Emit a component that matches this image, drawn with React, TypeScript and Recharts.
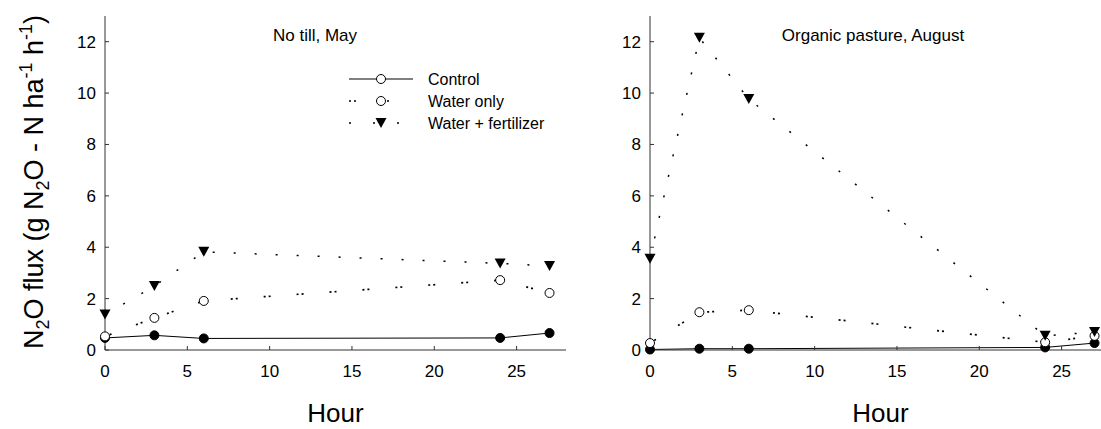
import { Line, LineChart, XAxis, YAxis } from "recharts"

const hours = [0, 3, 6, 24, 27]

const noTillControl = [0.47, 0.57, 0.45, 0.47, 0.66]
const noTillWater = [0.53, 1.25, 1.91, 2.72, 2.22]
const noTillFert = [1.38, 2.49, 3.82, 3.37, 3.27]

const pastureControl = [0.02, 0.05, 0.05, 0.1, 0.27]
const pastureWater = [0.27, 1.47, 1.55, 0.3, 0.55]
const pastureFert = [3.55, 12.15, 9.77, 0.55, 0.7]

const xTicks = [0, 5, 10, 15, 20, 25]
const yTicks = [0, 2, 4, 6, 8, 10, 12]
const seriesNames = ["Control", "Water only", "Water + fertilizer"]

const waterDash = "2 3 2 26"
const fertDash = "2 19"

const font = "'Liberation Sans', Arial, sans-serif"

function rows(control: number[], water: number[], fert: number[]) {
  return hours.map((h, i) => ({ hour: h, control: control[i], water: water[i], fert: fert[i] }))
}

const FilledDot = (p: any) => (
  <circle key={`f${p.index}`} cx={p.cx} cy={p.cy} r={4.5} fill="#000" stroke="#000" strokeWidth={1} />
)
const OpenDot = (p: any) => (
  <circle key={`o${p.index}`} cx={p.cx} cy={p.cy} r={4.5} fill="#fff" stroke="#000" strokeWidth={1} />
)
const TriDot = (p: any) => (
  <path
    key={`t${p.index}`}
    d={`M${p.cx - 5.5},${p.cy - 5} L${p.cx + 5.5},${p.cy - 5} L${p.cx},${p.cy + 5} Z`}
    fill="#000"
  />
)

// legend drawn by hand, top-left corner at (345, 68)
function LegendBox() {
  const dashes = [undefined, "2 3 2 26", "2 22"]
  return (
    <g transform="translate(345,68)">
      {seriesNames.map((name, i) => {
        const y = 11 + i * 22
        return (
          <g key={name}>
            <line x1={4} x2={68} y1={y} y2={y} stroke="#000" strokeWidth={i ? 1.5 : 1} strokeDasharray={dashes[i]} />
            {i === 2 ? TriDot({ cx: 36, cy: y, index: i }) : OpenDot({ cx: 36, cy: y, index: i })}
            <text x={83} y={y + 6} fontSize={16} fill="#000">
              {name}
            </text>
          </g>
        )
      })}
    </g>
  )
}

function Panel({ data }: { data: any[] }) {
  return (
    <LineChart width={600} height={429} data={data} margin={{ top: 16, right: 34, left: 0, bottom: 0 }}>
      <XAxis
        dataKey="hour"
        type="number"
        domain={[0, 28]}
        ticks={xTicks}
        height={79}
        tickSize={-4}
        tickMargin={19}
        tick={{ fontSize: 17, fill: "#000" }}
        stroke="#333"
        label={{ value: "Hour", position: "insideBottom", offset: 7, fontSize: 26, fill: "#000" }}
      />
      <YAxis
        type="number"
        domain={[0, 13]}
        ticks={yTicks}
        width={105}
        tickSize={-4}
        tickMargin={13}
        tick={{ fontSize: 17, fill: "#000" }}
        stroke="#333"
      />
      <Line
        dataKey="control"
        stroke="#000"
        strokeWidth={1}
        dot={FilledDot}
        activeDot={false}
        isAnimationActive={false}
      />
      <Line
        dataKey="water"
        stroke="#000"
        strokeWidth={1.7}
        strokeDasharray={waterDash}
        dot={OpenDot}
        activeDot={false}
        isAnimationActive={false}
      />
      <Line
        dataKey="fert"
        stroke="#000"
        strokeWidth={1.5}
        strokeDasharray={fertDash}
        dot={TriDot}
        activeDot={false}
        isAnimationActive={false}
      />
    </LineChart>
  )
}

export default function App() {
  return (
    <div
      style={{
        position: "absolute",
        left: 0,
        top: 0,
        width: 1101,
        height: 429,
        overflow: "hidden",
        background: "#fff",
        fontFamily: font,
      }}
    >
      <div style={{ position: "absolute", left: 0, top: 0 }}>
        <Panel data={rows(noTillControl, noTillWater, noTillFert)} />
      </div>
      <div style={{ position: "absolute", left: 545, top: 0 }}>
        <Panel data={rows(pastureControl, pastureWater, pastureFert)} />
      </div>
      <svg
        width={1101}
        height={429}
        style={{ position: "absolute", left: 0, top: 0, pointerEvents: "none", fontFamily: font }}
      >
        <text x={315} y={41} textAnchor="middle" fontSize={17} fill="#000">
          No till, May
        </text>
        <text x={873} y={41} textAnchor="middle" fontSize={17} fill="#000">
          Organic pasture, August
        </text>
        <LegendBox />
        <text transform="translate(43,182) rotate(-90)" textAnchor="middle" fontSize={27} fill="#000">
          N<tspan dy={6} fontSize={18}>2</tspan>
          <tspan dy={-6}>O flux (g N</tspan>
          <tspan dy={6} fontSize={18}>2</tspan>
          <tspan dy={-6}>O - N ha</tspan>
          <tspan dy={-11} fontSize={18}>-1</tspan>
          <tspan dy={11}> h</tspan>
          <tspan dy={-11} fontSize={18}>-1</tspan>
          <tspan dy={11}>)</tspan>
        </text>
      </svg>
    </div>
  )
}
